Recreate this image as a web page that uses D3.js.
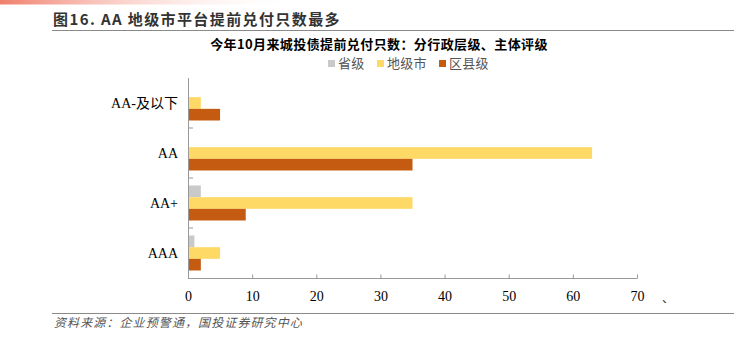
<!DOCTYPE html>
<html><head><meta charset="utf-8">
<script src="https://cdn.jsdelivr.net/npm/d3@7/dist/d3.min.js"></script>
<style>body{margin:0;background:#fff}svg{display:block}</style>
</head><body><svg id="c" width="734" height="341"></svg>
<script>
const categories = ["AA-及以下", "AA", "AA+", "AAA"];
const seriesNames = ["省级", "地级市", "区县级"];
const provincial = [0, 0, 2, 1];
const prefecture = [2, 63, 35, 5];
const county = [5, 35, 9, 2];
const xTicks = [0, 10, 20, 30, 40, 50, 60, 70];
const colors = ["#C9C9C9", "#FFD966", "#C55A11"];
const seriesValues = [provincial, prefecture, county];

const svg = d3.select("#c");
const defs = svg.append("defs");
const g = defs.append("linearGradient").attr("id","gr").attr("x1","0").attr("x2","1");
g.append("stop").attr("offset","0").attr("stop-color","#F07F6C");
g.append("stop").attr("offset","1").attr("stop-color","#FFFFFF").attr("stop-opacity","0");
svg.append("rect").attr("x",0).attr("y",0).attr("width",300).attr("height",4.5).attr("fill","url(#gr)");

svg.append("text").attr("x",53).attr("y",25).attr("font-family","'Noto Sans CJK SC', sans-serif")
  .attr("font-size",15).attr("font-weight","bold").attr("letter-spacing",1.4).attr("fill","#333").text("图16. AA 地级市平台提前兑付只数最多");
svg.append("line").attr("x1",52).attr("x2",734).attr("y1",30.5).attr("y2",30.5).attr("stroke","#8a8a8a").attr("stroke-width",1);

svg.append("text").attr("x",379).attr("y",49).attr("text-anchor","middle")
  .attr("font-family","'Noto Sans CJK SC', sans-serif").attr("font-size",13).attr("font-weight","bold").attr("letter-spacing",0.4).attr("fill","#000")
  .text("今年10月来城投债提前兑付只数：分行政层级、主体评级");

// legend
const legX = [328, 377, 439];
seriesNames.forEach((n,i)=>{
  svg.append("rect").attr("x",legX[i]).attr("y",60).attr("width",7).attr("height",7).attr("fill",colors[i]);
  svg.append("text").attr("x",legX[i]+10).attr("y",68).attr("font-family","'Noto Sans CJK SC', sans-serif")
    .attr("font-size",13).attr("letter-spacing",0.3).attr("fill","#555").text(n);
});

const x = d3.scaleLinear().domain([0,70]).range([188,637]);
const y = d3.scaleBand().domain(categories).range([78,278]);
const inner = d3.scaleBand().domain(seriesNames).range([0, 35]);

categories.forEach((c,ci)=>{
  seriesNames.forEach((s,si)=>{
    const v = seriesValues[si][ci];
    if (v<=0) return;
    svg.append("rect").attr("x",x(0)).attr("y",y(c)+7.5+inner(s)).attr("width",x(v)-x(0))
      .attr("height",inner.bandwidth()).attr("fill",colors[si]);
  });
});

// y axis
svg.append("line").attr("x1",188.5).attr("x2",188.5).attr("y1",78).attr("y2",278).attr("stroke","#999");
categories.slice(1).forEach(c=>{
  svg.append("line").attr("x1",188).attr("x2",193).attr("y1",y(c)).attr("y2",y(c)).attr("stroke","#999");
});
categories.forEach(c=>{
  svg.append("text").attr("x",178).attr("y",y(c)+y.bandwidth()/2+5).attr("text-anchor","end")
    .attr("font-family","'Liberation Serif', 'Noto Sans CJK SC', serif").attr("font-size",14).attr("fill","#000").text(c);
});

// x axis
const xa = svg.append("g").attr("transform","translate(0,278.5)")
  .call(d3.axisBottom(x).tickValues(xTicks).tickSize(-4).tickPadding(13));
xa.select(".domain").attr("stroke","#999").attr("d","M188,0H637");
xa.selectAll(".tick line").attr("stroke","#999");
xa.selectAll(".tick text").attr("font-family","'Liberation Serif', serif").attr("font-size",14).attr("fill","#000");

svg.append("text").attr("x",662).attr("y",303).attr("font-family","'Noto Sans CJK SC', sans-serif").attr("font-size",12).attr("fill","#333").text("、");

svg.append("line").attr("x1",52).attr("x2",734).attr("y1",313.5).attr("y2",313.5).attr("stroke","#8a8a8a").attr("stroke-width",1.2);
svg.append("text").attr("x",54).attr("y",327).attr("font-family","'Noto Sans CJK SC', sans-serif")
  .attr("font-size",12).attr("font-style","italic").attr("letter-spacing",1.1).attr("fill","#555").text("资料来源：企业预警通，国投证券研究中心");
</script></body></html>
